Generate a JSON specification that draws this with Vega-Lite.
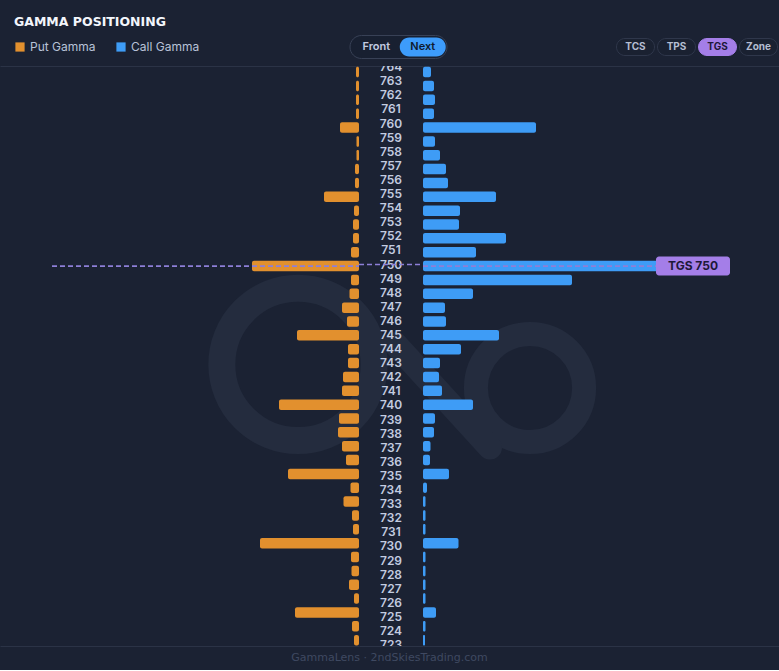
{
  "$schema": "https://vega.github.io/schema/vega-lite/v6.json",
  "background": "#1b2233",
  "padding": {"top": 15, "left": 0, "right": 0, "bottom": 0},
  "title": {
    "text": "GAMMA POSITIONING",
    "anchor": "start",
    "dx": 14,
    "offset": 0,
    "baseline": "top",
    "font": "DejaVu Sans",
    "fontSize": 12.5,
    "fontWeight": "bold",
    "color": "#f3f6fc"
  },
  "datasets": {
    "strikes": [
      {"strike": 764, "put": 3, "call": 8},
      {"strike": 763, "put": 3, "call": 11},
      {"strike": 762, "put": 3, "call": 12},
      {"strike": 761, "put": 3, "call": 11},
      {"strike": 760, "put": 19, "call": 113},
      {"strike": 759, "put": 2.5, "call": 12},
      {"strike": 758, "put": 2.5, "call": 17},
      {"strike": 757, "put": 4, "call": 23},
      {"strike": 756, "put": 4, "call": 25},
      {"strike": 755, "put": 35, "call": 73},
      {"strike": 754, "put": 5, "call": 37},
      {"strike": 753, "put": 6, "call": 36},
      {"strike": 752, "put": 6, "call": 83},
      {"strike": 751, "put": 8, "call": 53},
      {"strike": 750, "put": 107, "call": 240},
      {"strike": 749, "put": 8, "call": 149},
      {"strike": 748, "put": 9.5, "call": 50},
      {"strike": 747, "put": 17, "call": 22},
      {"strike": 746, "put": 12, "call": 23},
      {"strike": 745, "put": 62, "call": 76},
      {"strike": 744, "put": 11, "call": 38},
      {"strike": 743, "put": 11, "call": 17},
      {"strike": 742, "put": 16, "call": 16},
      {"strike": 741, "put": 17, "call": 19},
      {"strike": 740, "put": 80, "call": 50},
      {"strike": 739, "put": 20, "call": 12},
      {"strike": 738, "put": 21, "call": 11},
      {"strike": 737, "put": 17, "call": 7.5},
      {"strike": 736, "put": 13, "call": 7},
      {"strike": 735, "put": 71, "call": 26},
      {"strike": 734, "put": 8.5, "call": 4},
      {"strike": 733, "put": 15.5, "call": 2.5},
      {"strike": 732, "put": 7, "call": 2.5},
      {"strike": 731, "put": 6, "call": 2.5},
      {"strike": 730, "put": 99, "call": 35.5},
      {"strike": 729, "put": 8, "call": 2.5},
      {"strike": 728, "put": 7.5, "call": 2.5},
      {"strike": 727, "put": 10, "call": 2.5},
      {"strike": 726, "put": 5, "call": 2.5},
      {"strike": 725, "put": 64, "call": 13},
      {"strike": 724, "put": 7, "call": 2.5},
      {"strike": 723, "put": 5, "call": 2}
    ],
    "tgs": [{"level": 750, "label": "TGS 750"}],
    "watermark": [
      {"lobe": "left", "x": 61, "y": 742.9},
      {"lobe": "right", "x": -171, "y": 741.2}
    ],
    "watermarkLink": [
      {"x": -36, "y": 744.4, "x2": -131, "y2": 736.9}
    ],
    "expiry": [
      {"label": "Front", "active": false},
      {"label": "Next", "active": true}
    ],
    "levels": [
      {"label": "TCS", "active": false},
      {"label": "TPS", "active": false},
      {"label": "TGS", "active": true},
      {"label": "Zone", "active": false}
    ]
  },
  "spacing": 0,
  "resolve": {"scale": {"color": "shared"}, "legend": {"color": "shared"}},
  "vconcat": [
    {
      "width": 779,
      "height": 38,
      "layer": [
        {
          "data": {"values": [{"control": "Expiry"}]},
          "mark": {"type": "rect", "height": 23, "cornerRadius": 11.5, "fill": "#182031", "stroke": "#384156", "strokeWidth": 1},
          "encoding": {
            "x": {"field": "control", "type": "nominal", "scale": {"type": "band", "domain": ["Expiry"], "range": [350, 447], "paddingInner": 0, "paddingOuter": 0}, "axis": null},
            "y": {"datum": "header", "type": "nominal", "scale": {"type": "band", "paddingInner": 0, "paddingOuter": 0}, "axis": null}
          }
        },
        {
          "data": {"name": "expiry"},
          "transform": [{"filter": "datum.active"}],
          "mark": {"type": "rect", "height": 19, "width": 46, "cornerRadius": 9.5, "fill": "#3d9cfb"},
          "encoding": {
            "x": {"field": "label", "type": "nominal", "scale": {"type": "band", "domain": ["Front", "Next"], "range": [353, 446], "paddingInner": 0, "paddingOuter": 0}, "axis": null},
            "y": {"datum": "header", "type": "nominal", "axis": null}
          }
        },
        {
          "data": {"name": "expiry"},
          "mark": {"type": "text", "font": "Inter", "fontSize": 11, "fontWeight": 600},
          "encoding": {
            "x": {"field": "label", "type": "nominal", "scale": {"type": "band", "domain": ["Front", "Next"], "range": [353, 446], "paddingInner": 0, "paddingOuter": 0}, "axis": null},
            "y": {"datum": "header", "type": "nominal", "axis": null},
            "text": {"field": "label"},
            "color": {"condition": {"test": "datum.active", "value": "#0f1a2e"}, "value": "#c3cbe0"}
          }
        },
        {
          "data": {"name": "levels"},
          "mark": {"type": "rect", "height": 17, "width": 38, "cornerRadius": 8.5, "strokeWidth": 1},
          "encoding": {
            "x": {"field": "label", "type": "nominal", "scale": {"type": "band", "domain": ["TCS", "TPS", "TGS", "Zone"], "range": [615, 779], "paddingInner": 0, "paddingOuter": 0}, "axis": null},
            "y": {"datum": "header", "type": "nominal", "axis": null},
            "fill": {"condition": {"test": "datum.active", "value": "#a47ee8"}, "value": "#1a2131"},
            "stroke": {"condition": {"test": "datum.active", "value": "#a47ee8"}, "value": "#2f374b"}
          }
        },
        {
          "data": {"name": "levels"},
          "mark": {"type": "text", "font": "Inter", "fontSize": 10, "fontWeight": 700},
          "encoding": {
            "x": {"field": "label", "type": "nominal", "scale": {"type": "band", "domain": ["TCS", "TPS", "TGS", "Zone"], "range": [615, 779], "paddingInner": 0, "paddingOuter": 0}, "axis": null},
            "y": {"datum": "header", "type": "nominal", "axis": null},
            "text": {"field": "label"},
            "color": {"condition": {"test": "datum.active", "value": "#1d1838"}, "value": "#b4bdd2"}
          }
        }
      ],
      "resolve": {"scale": {"x": "independent"}}
    },
    {
      "spacing": 0,
      "bounds": "flush",
      "resolve": {"scale": {"color": "shared"}, "legend": {"color": "shared"}},
      "hconcat": [
        {
          "width": 359,
          "height": 580,
          "layer": [
            {
              "data": {"name": "watermark"},
              "mark": {"type": "point", "shape": "circle", "filled": false, "color": "#242c3e", "opacity": 1},
              "encoding": {
                "x": {"field": "x", "type": "quantitative", "scale": {"domain": [0, 359], "reverse": true, "nice": false}, "axis": null},
                "y": {"field": "y", "type": "quantitative", "scale": {"domain": [722.94, 764.08], "nice": false, "zero": false}, "axis": null},
                "size": {"field": "lobe", "type": "nominal", "scale": {"domain": ["left", "right"], "range": [23200, 11700]}, "legend": null},
                "strokeWidth": {"field": "lobe", "type": "nominal", "scale": {"domain": ["left", "right"], "range": [27, 24]}, "legend": null}
              }
            },
            {
              "data": {"name": "watermarkLink"},
              "mark": {"type": "rule", "color": "#242c3e", "strokeWidth": 24, "strokeCap": "round"},
              "encoding": {
                "x": {"field": "x", "type": "quantitative", "axis": null},
                "y": {"field": "y", "type": "quantitative", "axis": null},
                "x2": {"field": "x2"},
                "y2": {"field": "y2"}
              }
            },
            {
              "data": {"name": "strikes"},
              "mark": {"type": "bar", "orient": "horizontal", "size": 10.5, "cornerRadius": 2, "clip": true},
              "encoding": {
                "y": {"field": "strike", "type": "quantitative", "axis": null},
                "x": {"field": "put", "type": "quantitative", "stack": null,
                  "axis": {"orient": "top", "domain": true, "domainColor": "#2b3346", "ticks": false, "labels": false, "grid": false, "title": null}},
                "color": {"datum": "Put Gamma", "type": "nominal",
                  "scale": {"domain": ["Put Gamma", "Call Gamma"], "range": ["#e2902e", "#3e9cf6"]},
                  "legend": {"orient": "none", "legendX": 14, "legendY": 13, "direction": "horizontal", "title": null,
                    "symbolType": "square", "symbolSize": 85, "symbolStrokeWidth": 0, "labelColor": "#b8c2d8",
                    "labelFont": "Inter", "labelFontSize": 12, "labelOffset": 4, "columnPadding": 19}}
              }
            },
            {
              "data": {"name": "tgs"},
              "mark": {"type": "rule", "strokeDash": [5, 3], "color": "#8d7fd8", "strokeWidth": 1.6},
              "encoding": {
                "y": {"field": "level", "type": "quantitative", "axis": null},
                "x": {"datum": 307, "type": "quantitative",
                  "axis": {"orient": "bottom", "domain": true, "domainColor": "#2b3346", "ticks": false, "labels": false, "grid": false, "title": null}},
                "x2": {"datum": 0}
              }
            }
          ],
          "resolve": {"axis": {"x": "independent"}}
        },
        {
          "width": 64,
          "height": 580,
          "layer": [
            {
              "data": {"name": "strikes"},
              "mark": {"type": "text", "clip": true, "font": "Inter", "fontSize": 12, "fontWeight": 600, "color": "#c3cce0"},
              "encoding": {
                "y": {"field": "strike", "type": "quantitative", "scale": {"domain": [722.94, 764.08], "nice": false, "zero": false}, "axis": null},
                "x": {"datum": 0, "type": "quantitative", "scale": {"domain": [-1, 1]},
                  "axis": {"orient": "top", "domain": true, "domainColor": "#2b3346", "ticks": false, "labels": false, "grid": false, "title": null}},
                "text": {"field": "strike", "type": "quantitative", "format": "d"}
              }
            },
            {
              "data": {"name": "tgs"},
              "mark": {"type": "rule", "strokeDash": [5, 3], "color": "#8d7fd8", "strokeWidth": 1.6},
              "encoding": {
                "y": {"field": "level", "type": "quantitative", "axis": null},
                "x": {"datum": -1, "type": "quantitative",
                  "axis": {"orient": "bottom", "domain": true, "domainColor": "#2b3346", "ticks": false, "labels": false, "grid": false, "title": null}},
                "x2": {"datum": 1}
              }
            }
          ],
          "resolve": {"axis": {"x": "independent"}}
        },
        {
          "width": 356,
          "height": 580,
          "layer": [
            {
              "data": {"name": "strikes"},
              "mark": {"type": "bar", "orient": "horizontal", "size": 10.5, "cornerRadius": 2, "clip": true},
              "encoding": {
                "y": {"field": "strike", "type": "quantitative", "scale": {"domain": [722.94, 764.08], "nice": false, "zero": false}, "axis": null},
                "x": {"field": "call", "type": "quantitative", "stack": null, "scale": {"domain": [0, 356], "nice": false},
                  "axis": {"orient": "top", "domain": true, "domainColor": "#2b3346", "ticks": false, "labels": false, "grid": false, "title": null}},
                "color": {"datum": "Call Gamma", "type": "nominal"}
              }
            },
            {
              "data": {"name": "tgs"},
              "mark": {"type": "rule", "strokeDash": [5, 3], "color": "#8d7fd8", "strokeWidth": 1.6},
              "encoding": {
                "y": {"field": "level", "type": "quantitative", "axis": null},
                "x": {"datum": 0, "type": "quantitative",
                  "axis": {"orient": "bottom", "domain": true, "domainColor": "#2b3346", "ticks": false, "labels": false, "grid": false, "title": null}},
                "x2": {"datum": 236}
              }
            },
            {
              "data": {"name": "tgs"},
              "mark": {"type": "bar", "orient": "horizontal", "size": 19, "cornerRadius": 3, "color": "#a47ee8"},
              "encoding": {
                "y": {"field": "level", "type": "quantitative", "axis": null},
                "x": {"datum": 233, "type": "quantitative", "axis": null},
                "x2": {"datum": 307}
              }
            },
            {
              "data": {"name": "tgs"},
              "mark": {"type": "text", "font": "Inter", "fontSize": 12, "fontWeight": 700, "color": "#1d1838"},
              "encoding": {
                "y": {"field": "level", "type": "quantitative", "axis": null},
                "x": {"datum": 270, "type": "quantitative", "axis": null},
                "text": {"field": "label"}
              }
            }
          ],
          "resolve": {"axis": {"x": "independent"}}
        }
      ]
    },
    {
      "width": 779,
      "height": 24,
      "data": {"values": [{"credit": "GammaLens · 2ndSkiesTrading.com"}]},
      "mark": {"type": "text", "font": "DejaVu Sans", "fontSize": 11, "color": "#3f4961"},
      "encoding": {"text": {"field": "credit"}}
    }
  ],
  "config": {
    "view": {"stroke": null},
    "font": "Inter"
  }
}
